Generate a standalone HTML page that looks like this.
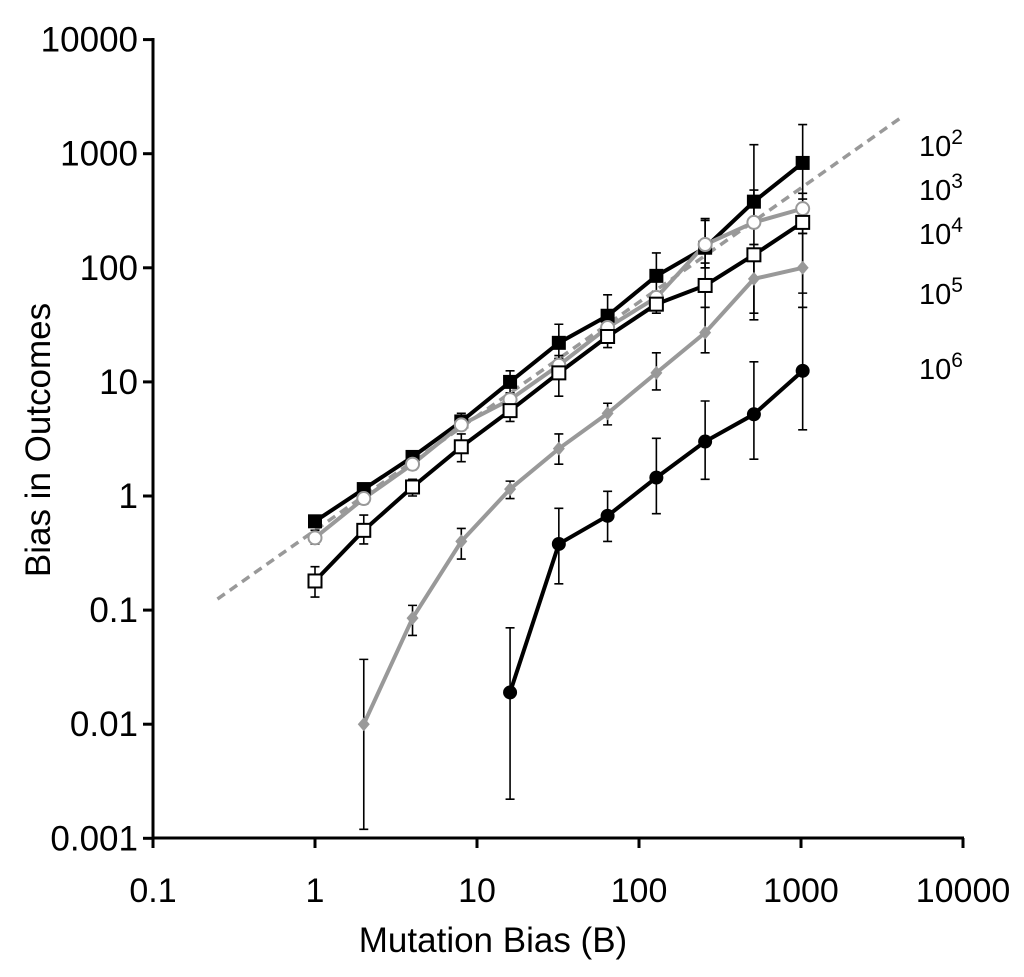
<!DOCTYPE html>
<html><head><meta charset="utf-8"><style>
body{margin:0;background:#fff;}
svg text{font-family:"Liberation Sans",sans-serif;fill:#000;}
</style></head><body>
<svg id="s" width="1024" height="972" xmlns="http://www.w3.org/2000/svg"></svg>
<script>
const s=document.getElementById('s');
const X=v=>153+162*(Math.log10(v)+1);
const Y=v=>496-114.1*Math.log10(v);
let h='';
h+='<line x1="153" y1="38" x2="153" y2="838" stroke="#000" stroke-width="3"/>';
h+='<line x1="152" y1="838" x2="964" y2="838" stroke="#000" stroke-width="3"/>';
const yl=['10000','1000','100','10','1','0.1','0.01','0.001'];
yl.forEach((t,i)=>{const y=Y(10000/Math.pow(10,i));
h+=`<line x1="143" y1="${y}" x2="153" y2="${y}" stroke="#000" stroke-width="3"/>`;
h+=`<text x="138" y="${y+12}" font-size="35" text-anchor="end">${t}</text>`;});
const xl=['0.1','1','10','100','1000','10000'];
xl.forEach((t,i)=>{const x=X(0.1*Math.pow(10,i));
h+=`<line x1="${x}" y1="838" x2="${x}" y2="848" stroke="#000" stroke-width="3"/>`;
h+=`<text x="${x}" y="902" font-size="34" text-anchor="middle">${t}</text>`;});
h+='<text x="493" y="952" font-size="35" text-anchor="middle">Mutation Bias (B)</text>';
h+='<text transform="translate(50,440) rotate(-90)" font-size="35" text-anchor="middle">Bias in Outcomes</text>';
h+=`<line x1="${X(0.25)}" y1="${Y(0.125)}" x2="${X(4200)}" y2="${Y(2100)}" stroke="#999" stroke-width="3.5" stroke-dasharray="9,6"/>`;
const B=[1,2,4,8,16,32,64,128,256,512,1024];
const ser=[
 {c:'#000',m:'fsq',b0:0,v:[0.6,1.15,2.2,4.5,10,22,38,85,150,380,830],e:[[0.55,0.65],[1.05,1.25],[2,2.4],[4,5.3],[8,12.5],[16,32],[25,58],[60,135],[100,270],[250,1200],[400,1800]]},
 {c:'#999',m:'oc',b0:0,v:[0.43,0.95,1.9,4.2,7,14,30,55,160,250,330],e:[[0.38,0.5],[0.85,1.05],[1.7,2.1],[3.8,4.6],[6,8],[12,16],[26,34],[48,62],[100,260],[160,480],[200,450]]},
 {c:'#000',m:'osq',b0:0,v:[0.18,0.5,1.2,2.7,5.6,12,25,48,70,130,250],e:[[0.13,0.24],[0.38,0.68],[1,1.4],[2,3.5],[4.5,7],[7.5,17],[20,30],[40,55],[45,110],[35,160],[60,270]]},
 {c:'#999',m:'dia',b0:1,v:[0.01,0.085,0.4,1.15,2.6,5.3,12,27,80,100],e:[[0.0012,0.037],[0.06,0.11],[0.28,0.52],[0.95,1.35],[1.9,3.5],[4.2,6.5],[8.5,18],[18,45],[40,140],[45,200]]},
 {c:'#000',m:'fc',b0:4,v:[0.019,0.38,0.67,1.45,3,5.2,12.5],e:[[0.0022,0.07],[0.17,0.78],[0.4,1.1],[0.7,3.2],[1.4,6.8],[2.1,15],[3.8,45]]}
];
let lines='',errs='',marks='';
ser.forEach(S=>{
 const pts=S.v.map((v,i)=>[X(B[i+S.b0]),Y(v)]);
 lines+=`<polyline points="${pts.map(p=>p.join(',')).join(' ')}" fill="none" stroke="${S.c}" stroke-width="4"/>`;
 S.e.forEach((e,i)=>{const x=pts[i][0],y1=Y(e[0]),y2=Y(e[1]);
  errs+=`<path d="M${x},${y1}V${y2}M${x-4.5},${y1}h9M${x-4.5},${y2}h9" stroke="#000" stroke-width="1.6" fill="none"/>`;});
 pts.forEach(([x,y])=>{
  if(S.m=='fsq')marks+=`<rect x="${x-7}" y="${y-7}" width="14" height="14" fill="#000"/>`;
  if(S.m=='osq')marks+=`<rect x="${x-6.5}" y="${y-6.5}" width="13" height="13" fill="#fff" stroke="#000" stroke-width="2"/>`;
  if(S.m=='oc')marks+=`<circle cx="${x}" cy="${y}" r="6.5" fill="#fff" stroke="#999" stroke-width="2"/>`;
  if(S.m=='fc')marks+=`<circle cx="${x}" cy="${y}" r="7" fill="#000"/>`;
  if(S.m=='dia')marks+=`<path d="M${x},${y-7}L${x+6},${y}L${x},${y+7}L${x-6},${y}Z" fill="#999"/>`;
 });
});
h+=lines+errs+marks;
[['2',145],['3',189],['4',233],['5',293],['6',368]].forEach(([p,y])=>{
 h+=`<text x="919" y="${y+11}" font-size="29">10<tspan dy="-12" font-size="21">${p}</tspan></text>`;});
s.innerHTML=h;
</script>
</body></html>
